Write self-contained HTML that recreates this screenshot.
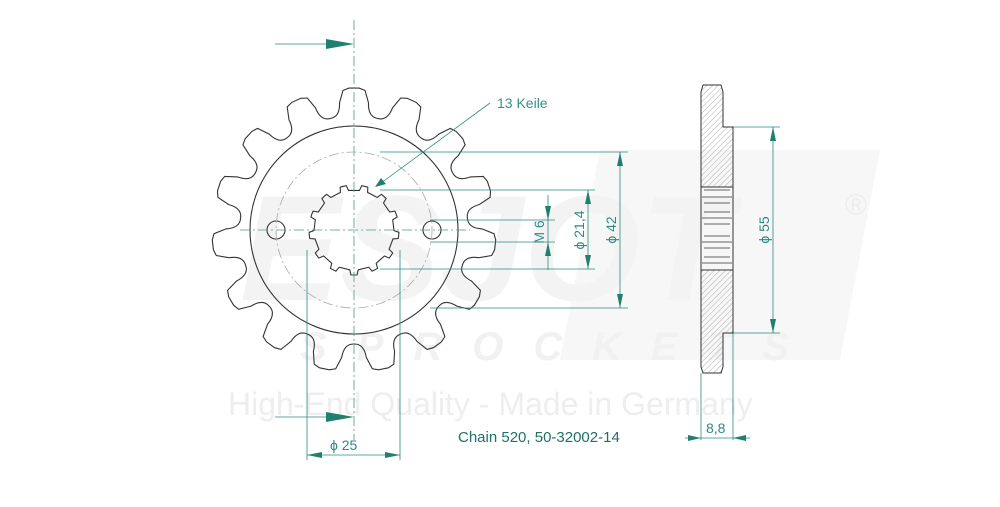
<!DOCTYPE html>
<html><head><meta charset="utf-8"><style>
body{margin:0;background:#fff;width:1000px;height:507px;overflow:hidden}
svg{display:block}
text{font-family:"Liberation Sans",sans-serif}
</style></head><body>
<svg id="s" width="1000" height="507" viewBox="0 0 1000 507" xmlns="http://www.w3.org/2000/svg">
<defs>
<pattern id="h" width="4" height="4" patternUnits="userSpaceOnUse" patternTransform="rotate(45)">
<line x1="0" y1="0" x2="0" y2="4" stroke="#999" stroke-width="0.8"/></pattern>
</defs>
<!-- watermark -->
<g>
<path d="M600 150 L880 150 L840 360 L560 360 Z" fill="#f7f7f7"/>
<text x="240" y="300" font-size="150" font-weight="bold" fill="#f3f3f3" font-style="italic">ESJOT</text>
<text x="300" y="360" font-size="40" font-weight="bold" fill="#f1f1f1" font-style="italic" letter-spacing="30">SPROCKETS</text>
<text x="228" y="415" font-size="32" fill="#eeeeee">High-End Quality - Made in Germany</text>
<text x="845" y="215" font-size="30" fill="#eeeeee">®</text>
</g>
<g id="sp" fill="none" stroke="#333" stroke-width="1.1"></g>
<g stroke="#2a8a80" stroke-width="0.8" fill="none">
<line x1="354" y1="20" x2="354" y2="440" stroke-dasharray="10,3,2,3" stroke="#4a9a90"/>
<line x1="240" y1="230" x2="470" y2="230" stroke-dasharray="10,3,2,3" stroke="#4a9a90"/>
<circle cx="354" cy="230" r="78" stroke="#aaa" stroke-dasharray="10,3,2,3"/>
<line x1="275" y1="44" x2="340" y2="44"/>
<line x1="275" y1="417" x2="340" y2="417"/>
<line x1="307" y1="250" x2="307" y2="460"/>
<line x1="400" y1="250" x2="400" y2="460"/>
<line x1="307" y1="455" x2="400" y2="455"/>
<line x1="490" y1="103" x2="377" y2="186"/>
<line x1="380" y1="152" x2="628" y2="152"/>
<line x1="380" y1="190" x2="595" y2="190"/>
<line x1="430" y1="220" x2="555" y2="220"/>
<line x1="430" y1="242" x2="555" y2="242"/>
<line x1="380" y1="269" x2="595" y2="269"/>
<line x1="430" y1="308" x2="628" y2="308"/>
<line x1="548" y1="195" x2="548" y2="270"/>
<line x1="588" y1="190" x2="588" y2="269"/>
<line x1="620" y1="152" x2="620" y2="308"/>
<line x1="733" y1="127" x2="780" y2="127"/>
<line x1="733" y1="333" x2="780" y2="333"/>
<line x1="773" y1="127" x2="773" y2="333"/>
<line x1="701" y1="373" x2="701" y2="440"/>
<line x1="733" y1="333" x2="733" y2="440"/>
<line x1="685" y1="438" x2="750" y2="438"/>
</g>
<g fill="#1f8070">
<polygon points="354,44 326,39 326,49"/>
<polygon points="354,417 326,412 326,422"/>
<polygon points="307,455 322,452 322,458"/>
<polygon points="400,455 385,452 385,458"/>
<polygon points="375,187 381,178 386,184"/>
<polygon points="548,220 545,206 551,206"/>
<polygon points="548,242 545,256 551,256"/>
<polygon points="588,190 585,204 591,204"/>
<polygon points="588,269 585,255 591,255"/>
<polygon points="620,152 617,166 623,166"/>
<polygon points="620,308 617,294 623,294"/>
<polygon points="773,127 770,141 776,141"/>
<polygon points="773,333 770,319 776,319"/>
<polygon points="701,438 688,435 688,441"/>
<polygon points="733,438 746,435 746,441"/>
</g>
<g fill="#2a8a80" font-size="14">
<text x="497" y="108" fill="#3a9088">13 Keile</text>
<text transform="translate(544,232) rotate(-90)" text-anchor="middle">M 6</text>
<text transform="translate(584,230) rotate(-90)" text-anchor="middle">ϕ 21,4</text>
<text transform="translate(616,230) rotate(-90)" text-anchor="middle">ϕ 42</text>
<text transform="translate(769,230) rotate(-90)" text-anchor="middle">ϕ 55</text>
<text x="330" y="450">ϕ  25</text>
<text x="706" y="433">8,8</text>
<text x="458" y="442" font-size="15" fill="#1f7068">Chain 520, 50-32002-14</text>
</g>
<!-- side view -->
<g stroke="#333" stroke-width="1">
<path d="M703,85 L721,85 L723,92 L723,127 L733,127 L733,187 L701,187 L701,92 Z" fill="url(#h)"/>
<path d="M701,270 L733,270 L733,333 L723,333 L723,367 L721,373 L703,373 L701,367 Z" fill="url(#h)"/>
<path d="M701,187 L733,187 M701,270 L733,270 M701,187 L701,270 M733,187 L733,270" fill="none"/>
<path d="M704,190 L730,190 M702,197 L732,197 M704,203 L730,203 M704,212 L730,212 M702,218 L732,218 M704,224 L730,224 M704,236 L730,236 M702,242 L732,242 M704,248 L730,248 M704,257 L730,257 M702,263 L732,263" fill="none" stroke-width="0.8"/>
</g>
</svg>
<script>
(function(){
var cx=354,cy=230,g=document.getElementById('sp'),ns='http://www.w3.org/2000/svg';
function P(a,r){a=a*Math.PI/180;return (cx+r*Math.cos(a)).toFixed(1)+','+(cy+r*Math.sin(a)).toFixed(1);}
var d='',N=15,st=360/N;
for(var i=0;i<N;i++){var a=-90+i*st;
 if(i==0)d+='M'+P(a-st/2,114);
 d+=' Q'+P(a-7,114)+' '+P(a-6.5,128)+' L'+P(a-4.5,140)+' L'+P(a-2,142)+' L'+P(a+2,142)+' L'+P(a+4.5,140)+' L'+P(a+6.5,128)+' Q'+P(a+7,114)+' '+P(a+st/2,114);}
d+='Z';
var p=document.createElementNS(ns,'path');p.setAttribute('d',d);g.appendChild(p);
function c(x,y,r){var e=document.createElementNS(ns,'circle');e.setAttribute('cx',x);e.setAttribute('cy',y);e.setAttribute('r',r);g.appendChild(e);}
c(cx,cy,104);c(276,230,9);c(432,230,9);
var d2='',M=13,s2=360/M;
for(var j=0;j<M;j++){var b=-90+j*s2;
 d2+=(j==0?'M':' L')+P(b-s2/2+4,45)+' L'+P(b-s2/2+6,40)+' L'+P(b+s2/2-6,40)+' L'+P(b+s2/2-4,45)+' L'+P(b+s2/2,45);}
d2+='Z';
var q=document.createElementNS(ns,'path');q.setAttribute('d',d2);g.appendChild(q);
})();
</script>
</body></html>
